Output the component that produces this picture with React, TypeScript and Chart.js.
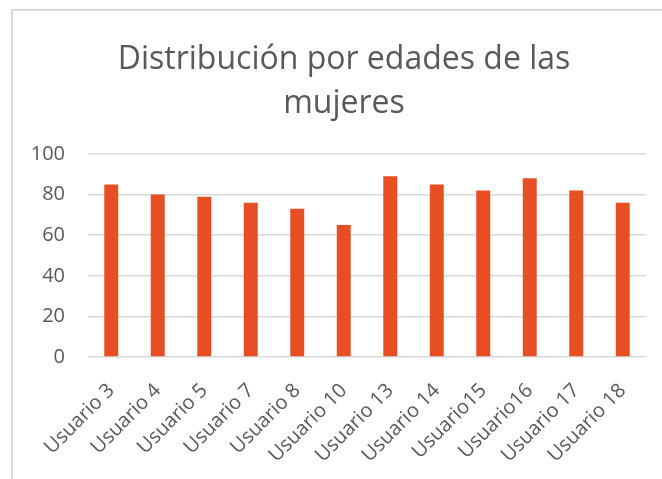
import { useEffect, useRef } from 'react';
import { Chart, registerables } from 'chart.js';

Chart.register(...registerables);

const titleLines = ['Distribución por edades de las', 'mujeres'];
const categories = [
  'Usuario 3', 'Usuario 4', 'Usuario 5', 'Usuario 7', 'Usuario 8', 'Usuario 10',
  'Usuario 13', 'Usuario 14', 'Usuario15', 'Usuario16', 'Usuario 17', 'Usuario 18',
];
const ages = [85, 80, 79, 76, 73, 65, 89, 85, 82, 88, 82, 76];
const yMin = 0;
const yMax = 100;
const yStep = 20;

const TEXT = '#595959';
const GRID = '#d9d9d9';
const BAR = '#E84E24';

const shiftTitle = {
  id: 'shiftTitle',
  afterLayout(chart: any) {
    const t = chart.titleBlock;
    if (t) {
      t.left += 42;
    }
  },
};

export default function App() {
  const ref = useRef<HTMLCanvasElement | null>(null);

  useEffect(() => {
    if (!ref.current) return;
    const chart = new Chart(ref.current, {
      type: 'bar',
      data: {
        labels: categories,
        datasets: [
          {
            data: ages,
            backgroundColor: BAR,
            borderWidth: 0,
            barPercentage: 0.3,
            categoryPercentage: 1,
          },
        ],
      },
      options: {
        animation: false,
        responsive: false,
        maintainAspectRatio: false,
        layout: { padding: { left: 0, right: 16, top: 0, bottom: 0 } },
        plugins: {
          legend: { display: false },
          tooltip: { enabled: false },
          title: {
            display: true,
            text: titleLines,
            color: TEXT,
            font: { family: 'Open Sans', size: 32, weight: 'normal', lineHeight: 1.375 },
            padding: { top: 38, bottom: 28 },
          },
        },
        scales: {
          x: {
            grid: { display: false },
            border: { display: false },
            ticks: {
              color: TEXT,
              font: { family: 'Open Sans', size: 20 },
              minRotation: 45,
              maxRotation: 45,
              autoSkip: false,
              padding: 14,
            },
            afterFit: (s: any) => {
              s.height = 122;
            },
          },
          y: {
            min: yMin,
            max: yMax,
            border: { display: false },
            grid: { color: GRID, lineWidth: 1.5, drawTicks: false },
            ticks: {
              stepSize: yStep,
              color: TEXT,
              font: { family: 'Open Sans', size: 20 },
              padding: 23,
            },
            afterFit: (s: any) => {
              s.width = 88;
            },
          },
        },
      },
      plugins: [shiftTitle],
    });
    return () => chart.destroy();
  }, []);

  return (
    <div style={{ position: 'fixed', left: 0, top: 0, width: 662, height: 479, background: '#fff', overflow: 'hidden' }}>
      <div
        style={{
          position: 'absolute',
          left: 11,
          top: 9,
          width: 700,
          height: 520,
          borderLeft: '2px solid #d9d9d9',
          borderTop: '2px solid #d9d9d9',
        }}
      />
      <canvas ref={ref} width={662} height={479} style={{ position: 'absolute', left: 0, top: 0, width: 662, height: 479 }} />
    </div>
  );
}
